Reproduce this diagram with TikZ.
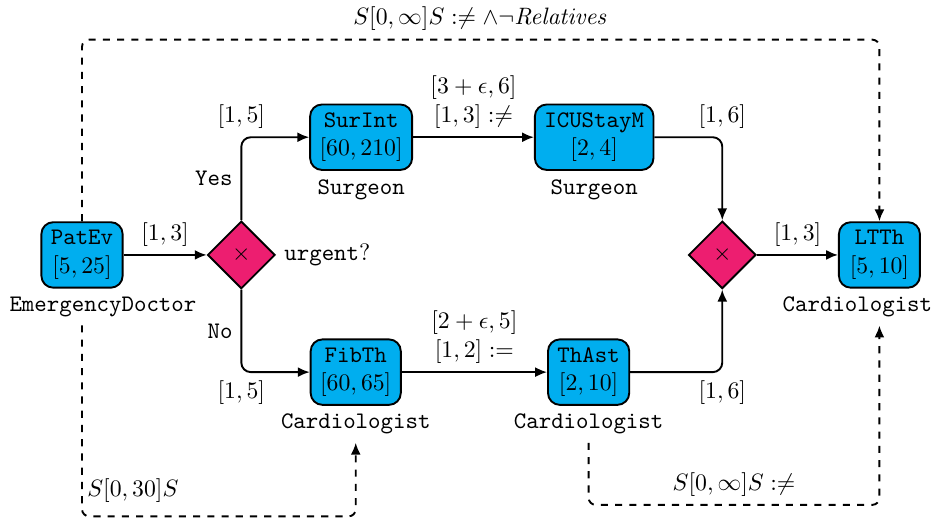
\documentclass[tikz,border=0pt]{standalone}
\usepackage{tikz}
\usetikzlibrary{shapes.geometric, arrows.meta, positioning}

\definecolor{taskblue}{RGB}{0,174,239}
\definecolor{gatepink}{RGB}{237,30,112}

\begin{document}
\begin{tikzpicture}[
    box/.style={rectangle, rounded corners=5pt, draw, thick, fill=taskblue,
                minimum width=1.2cm, minimum height=0.97cm, inner xsep=4pt, align=center},
    gate/.style={diamond, draw, thick, fill=gatepink, minimum size=1cm, inner sep=0pt},
    role/.style={font=\ttfamily},
    flow/.style={-{Latex[length=5pt,width=4.2pt]}, thick, rounded corners=4pt},
    dep/.style={-{Latex[length=5pt,width=4.2pt]}, thick, dashed, rounded corners=3pt},
    node distance=1.2cm
  ]
    \useasboundingbox (0,0) rectangle (13.822,7.733);

    \node[box] (pat) at (1.215,3.956) {\texttt{PatEv}\\$[5,25]$};
    \node[gate, right=1.23cm of pat] (split) {$\times$};
    \node[right=0pt of split] (urgent) {\texttt{urgent}?};

    \node[box] (surint) at (5.35,5.70) {\texttt{SurInt}\\$[60,210]$};
    \node[box, right=1.79cm of surint] (icu) {\texttt{ICUStayM}\\$[2,4]$};
    \node[box] (fib) at (5.27,2.22) {\texttt{FibTh}\\$[60,65]$};
    \node[box] (thast) at (8.72,2.22) {\texttt{ThAst}\\$[2,10]$};

    \node[gate] (join) at (10.70,3.956) {$\times$};
    \node[box, right=of join] (ltth) {\texttt{LTTh}\\$[5,10]$};

    \node[role, below=0pt of pat, xshift=0.31cm]    (patrole)   {EmergencyDoctor};
    \node[role, below=0pt of surint]                (surrole)   {Surgeon};
    \node[role, below=0pt of icu]                   (icurole)   {Surgeon};
    \node[role, below=0pt of fib]                   (fibrole)   {Cardiologist};
    \node[role, below=0pt of thast]                 (thastrole) {Cardiologist};
    \node[role, below=0pt of ltth, xshift=-0.326cm] (ltthrole)  {Cardiologist};

    \draw[flow] (pat) -- node[above] {$[1,3]$} (split);
    \draw[flow] (split.north) |- node[pos=0.5, above] {$[1,5]$}
                                 node[pos=0.25, left] {\texttt{Yes}} (surint);
    \draw[flow] (split.south) |- node[pos=0.5, below] {$[1,5]$}
                                 node[pos=0.25, left] {\texttt{No}} (fib);
    \draw[flow] (surint) -- node[above, align=center] {$[3+\epsilon,6]$\\$[1,3] :\neq$} (icu);
    \draw[flow] (fib) -- node[above, align=center] {$[2+\epsilon,5]$\\$[1,2] :=$} (thast);
    \draw[flow] (icu) -| node[pos=0.5, above] {$[1,6]$} (join);
    \draw[flow] (thast) -| node[pos=0.5, below] {$[1,6]$} (join);
    \draw[flow] (join) -- node[above] {$[1,3]$} (ltth);

    \draw[dep] (pat.north) -- ++(0,2.69)
        -| node[pos=0.25, above] {$S[0,\infty]S :\neq \wedge\neg\mathit{Relatives}$} (ltth.north);
    \draw[dep] (pat.south |- patrole.south) -- ++(0,-2.83)
        -| node[pos=0, above right, xshift=-1.5pt, yshift=2pt] {$S[0,30]S$} (fibrole.south);
    \draw[dep] (thastrole.south) -- ++(0,-0.92)
        -| node[pos=0.25, above] {$S[0,\infty]S :\neq$} (ltth.south |- ltthrole.south);
  \end{tikzpicture}
\end{document}
